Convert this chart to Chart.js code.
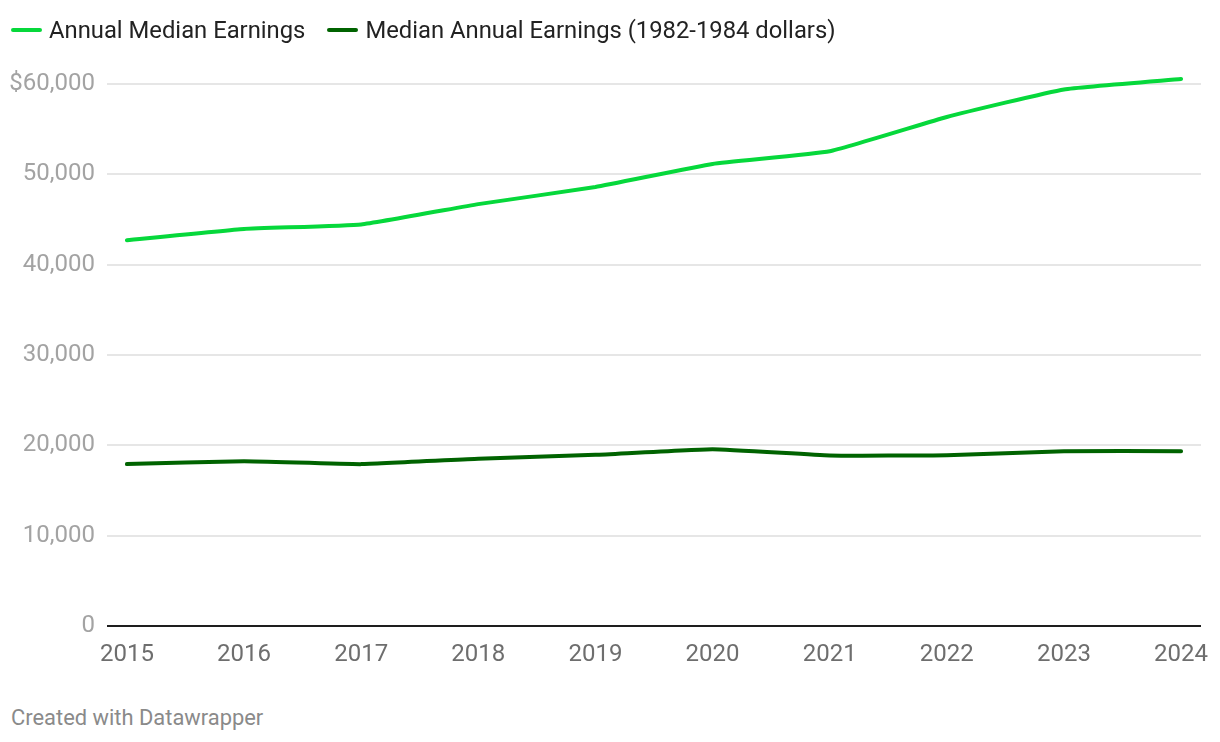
<!DOCTYPE html>
<html>
<head>
<meta charset="utf-8">
<script src="https://cdn.jsdelivr.net/npm/chart.js@4/dist/chart.umd.min.js"></script>
<style>
  body { margin: 0; background: #fff; font-family: Roboto, sans-serif; }
  #wrap { position: relative; width: 1220px; height: 742px; }
  #legend { position: absolute; left: 11px; top: 16px; display: flex; align-items: center; font-size: 23.8px; color: #222; }
  .item { display: flex; align-items: center; margin-right: 22px; }
  .mark { display: inline-block; width: 31px; height: 4px; border-radius: 2px; margin-right: 7px; }
  #footer { position: absolute; left: 11px; top: 705px; font-size: 21.9px; color: #8a8a8a; }
  canvas { position: absolute; left: 0; top: 0; }
</style>
</head>
<body>
<div id="wrap">
  <canvas id="earningsChart" width="1220" height="690"></canvas>
  <div id="legend"></div>
  <div id="footer">Created with Datawrapper</div>
</div>
<script>
var years = [2015, 2016, 2017, 2018, 2019, 2020, 2021, 2022, 2023, 2024];
var nominalEarnings = [42700, 43950, 44450, 46700, 48600, 51150, 52550, 56350, 59400, 60550];
var realEarnings = [17920, 18230, 17920, 18520, 18950, 19580, 18880, 18900, 19350, 19350];
var yTickValues = [0, 10000, 20000, 30000, 40000, 50000, 60000];
var seriesNames = ['Annual Median Earnings', 'Median Annual Earnings (1982-1984 dollars)'];
var seriesColors = ['#06d83b', '#006300'];

function toPoints(vals) {
  var out = [];
  for (var i in years) out.push({ x: years[i], y: vals[i] });
  return out;
}

// html legend
var legendEl = document.getElementById('legend');
for (var i = 0; i < seriesNames.length; i++) {
  var it = document.createElement('span');
  it.className = 'item';
  it.innerHTML = '<span class="mark" style="background:' + seriesColors[i] + '"></span>' + seriesNames[i];
  legendEl.appendChild(it);
}

var ctx = document.getElementById('earningsChart').getContext('2d');
var chart = new Chart(ctx, {
  type: 'line',
  data: {
    datasets: [
      {
        label: seriesNames[0],
        data: toPoints(nominalEarnings),
        borderColor: seriesColors[0],
        borderWidth: 4,
        borderCapStyle: 'round',
        borderJoinStyle: 'round',
        pointRadius: 0,
        tension: 0.12,
        clip: false
      },
      {
        label: seriesNames[1],
        data: toPoints(realEarnings),
        borderColor: seriesColors[1],
        borderWidth: 4,
        borderCapStyle: 'round',
        borderJoinStyle: 'round',
        pointRadius: 0,
        tension: 0.12,
        clip: false
      }
    ]
  },
  options: {
    responsive: false,
    animation: false,
    layout: { padding: { top: 84, left: 10, right: 19, bottom: 0 } },
    plugins: { legend: { display: false }, tooltip: { enabled: false } },
    scales: {
      x: {
        type: 'linear',
        min: years[0] - 0.17,
        max: years[years.length - 1] + 0.17,
        afterBuildTicks: function(scale) {
          scale.ticks = years.map(function(v) { return { value: v }; });
        },
        afterFit: function(scale) { scale.height = 64; },
        grid: { display: false },
        border: { display: false },
        ticks: {
          color: '#6e6e6e',
          font: { family: 'Roboto', size: 24 },
          padding: 7,
          maxRotation: 0,
          autoSkip: false,
          callback: function(v) { return String(v); }
        }
      },
      y: {
        min: 0,
        max: 60000,
        afterBuildTicks: function(scale) {
          scale.ticks = yTickValues.map(function(v) { return { value: v }; });
        },
        afterFit: function(scale) { scale.width = 97; },
        border: { display: false },
        grid: {
          drawTicks: false,
          color: function(c) { return c.tick && c.tick.value === 0 ? '#1e1e1e' : '#e6e6e6'; },
          lineWidth: 2
        },
        ticks: {
          color: '#a3a3a3',
          font: { family: 'Roboto', size: 24 },
          padding: 12,
          callback: function(v) {
            var s = v.toLocaleString('en-US');
            return v === 60000 ? '$' + s : s;
          }
        }
      }
    }
  }
});
</script>
</body>
</html>
